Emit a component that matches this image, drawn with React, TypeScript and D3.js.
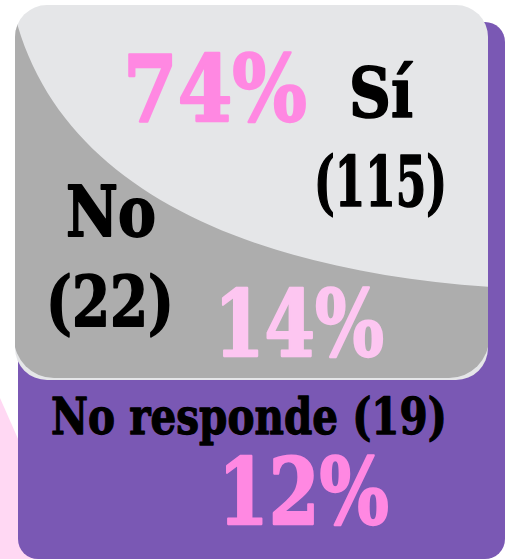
import React, { useEffect, useRef } from 'react';
import * as d3 from 'd3';

// survey answers
const categories = ['Sí', 'No', 'No responde'];
const counts = [115, 22, 19];
const percents = [74, 14, 12];

const W = 513;
const H = 559;
const FONT = '"DejaVu Serif", "Liberation Serif", serif';

const App = () => {
  const svgRef = useRef<SVGSVGElement | null>(null);

  useEffect(() => {
    const svg = d3.select(svgRef.current);
    svg.selectAll('*').remove();
    svg.attr('viewBox', `0 0 ${W} ${H}`);

    const defs = svg.append('defs');
    defs.append('clipPath').attr('id', 'card')
      .append('rect').attr('x', 15).attr('y', 5).attr('width', 473).attr('height', 375).attr('rx', 32);
    defs.append('clipPath').attr('id', 'cardDark')
      .append('rect').attr('x', 14).attr('y', -30).attr('width', 475).attr('height', 408).attr('rx', 40);

    // pink sliver on the left
    svg.append('path')
      .attr('d', d3.line()([[0, 398], [45, 500], [45, H], [0, H]]))
      .attr('fill', '#ffd8f3');

    // purple base = "No responde"
    svg.append('rect').attr('x', 18).attr('y', 22).attr('width', 487).attr('height', H - 22)
      .attr('rx', 20).attr('fill', '#7a58b4');

    // card: light = "Sí", dark = "No"
    const card = svg.append('g').attr('clip-path', 'url(#card)');
    card.append('rect').attr('x', 0).attr('y', 0).attr('width', W).attr('height', 400).attr('fill', '#e5e6e8');

    const p = d3.path();
    p.moveTo(15, 16);
    p.bezierCurveTo(60, 190, 250, 270, 490, 287);
    p.lineTo(490, 400);
    p.lineTo(0, 400);
    p.lineTo(0, 0);
    p.closePath();
    card.append('g').attr('clip-path', 'url(#cardDark)')
      .append('path').attr('d', p.toString()).attr('fill', '#adadad');

    // heavy display text squeezed horizontally to the wanted width
    const txt = (s: string, x: number, y: number, size: number, len: number, fill: string) => {
      const t = svg.append('text')
        .attr('x', 0).attr('y', 0)
        .attr('font-family', FONT).attr('font-weight', 'bold')
        .attr('font-size', size).attr('fill', fill)
        .attr('stroke', fill).attr('stroke-width', size / 40).attr('stroke-linejoin', 'round')
        .text(s);
      const natural = (t.node() as SVGTextElement).getComputedTextLength() || len;
      t.attr('transform', `translate(${x},${y}) scale(${len / natural},1)`);
      return t;
    };

    const pct = (v: number) => `${v}%`;

    // Sí
    txt(pct(percents[0]), 123, 121, 92, 184, '#ff88e2');
    txt(categories[0], 349, 117, 69, 64, '#000');
    txt(`(${counts[0]})`, 314, 206, 69, 133, '#000');

    // No
    txt(categories[1], 66, 236, 70, 90, '#000');
    txt(`(${counts[1]})`, 46, 326, 70, 128, '#000');
    txt(pct(percents[1]), 214, 356, 91, 170, '#fdc6f1');

    // No responde
    txt(`${categories[2]} (${counts[2]})`, 51, 434, 50, 396, '#000');
    txt(pct(percents[2]), 218, 524, 92, 171, '#ff88e2');
  }, []);

  return (
    <svg
      ref={svgRef}
      width={W}
      height={H}
      style={{ position: 'absolute', left: 0, top: 0, display: 'block', background: '#fff' }}
    />
  );
};

export default App;
